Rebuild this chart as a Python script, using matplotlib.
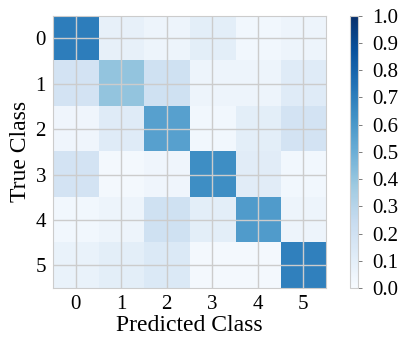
import numpy as np
import matplotlib
matplotlib.use('Agg')
import matplotlib.pyplot as plt

plt.rcParams['font.family'] = ['Liberation Serif', 'DejaVu Serif']
plt.rcParams['mathtext.fontset'] = 'stix'

classes = ['0', '1', '2', '3', '4', '5']
row0 = [0.70, 0.08, 0.05, 0.10, 0.03, 0.05]
row1 = [0.18, 0.40, 0.20, 0.05, 0.05, 0.12]
row2 = [0.04, 0.12, 0.56, 0.03, 0.10, 0.18]
row3 = [0.18, 0.02, 0.04, 0.64, 0.11, 0.03]
row4 = [0.03, 0.05, 0.20, 0.10, 0.58, 0.05]
row5 = [0.07, 0.10, 0.14, 0.02, 0.02, 0.69]

cm = np.array([row0, row1, row2, row3, row4, row5])

fig = plt.figure(figsize=(4.01, 3.45), dpi=100)
ax = fig.add_axes([0.132, 0.165, 0.681, 0.79])
im = ax.imshow(cm, cmap='Blues', vmin=0, vmax=1, aspect='auto')

ax.set_xticks(range(len(classes)))
ax.set_yticks(range(len(classes)))
ax.set_xticklabels(classes, fontsize=15)
ax.set_yticklabels(classes, fontsize=15)
ax.set_xlabel('Predicted Class', fontsize=17, labelpad=1)
ax.set_ylabel('True Class', fontsize=17, labelpad=3)
ax.grid(True, color='#cccccc', linewidth=1)
ax.tick_params(length=0, pad=5)
for s in ax.spines.values():
    s.set_color('#cccccc')

cax = fig.add_axes([0.873, 0.165, 0.02, 0.79])
cb = fig.colorbar(im, cax=cax, ticks=np.arange(0, 1.01, 0.1))
cb.ax.set_yticklabels(['%.1f' % t for t in np.arange(0, 1.01, 0.1)], fontsize=15)
cb.outline.set_edgecolor('#cccccc')
cb.ax.tick_params(length=3, color='#666666', width=0.6, pad=7)

fig.savefig('out.png', dpi=100)
